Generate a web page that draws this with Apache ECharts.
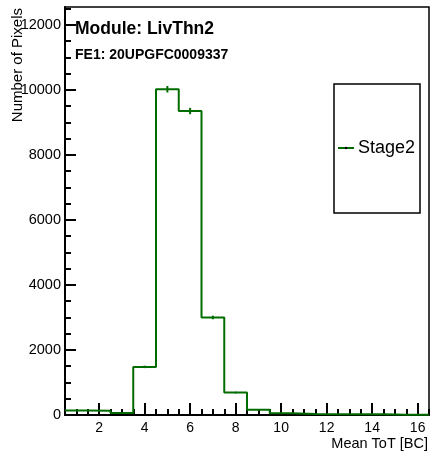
<!DOCTYPE html>
<html>
<head>
<meta charset="utf-8">
<script src="https://cdn.jsdelivr.net/npm/echarts@6/dist/echarts.min.js"></script>
<style>
  html, body { margin: 0; padding: 0; background: #fff; }
  #chart { width: 434px; height: 456px; }
</style>
</head>
<body>
<div id="chart"></div>
<script>
// histogram bins (centres, width 1) and contents
var bins   = [1, 2, 3, 4, 5, 6, 7, 8, 9, 10, 11, 12, 13, 14, 15, 16];
var counts = [140, 130, 60, 1480, 10020, 9350, 3000, 690, 160, 50, 30, 25, 20, 25, 10, 5];
var errors = [12, 11, 8, 38, 100, 97, 55, 26, 13, 7, 5, 5, 4, 5, 3, 2];

var xMajor = [2, 4, 6, 8, 10, 12, 14, 16];
var yMajor = [0, 2000, 4000, 6000, 8000, 10000, 12000];

var xMin = 0.5, xMax = 16.5;
var yMin = 0, yMax = 12550;

var lineColor = '#006c00';
var font = 'Liberation Sans, Arial, Helvetica, sans-serif';

// minor ticks every 0.5 on x, every 500 on y
var xMinor = [];
for (var t = 1; t <= 16.5; t += 0.5) {
    if (xMajor.indexOf(t) < 0) xMinor.push(t);
}
var yMinor = [];
for (var u = 500; u <= 12500; u += 500) {
    if (yMajor.indexOf(u) < 0) yMinor.push(u);
}

// step outline: left edge of every bin, plus closing right edge
var outline = [];
for (var i = 0; i < bins.length; i++) {
    outline.push([bins[i] - 0.5, counts[i]]);
}
outline.push([bins[bins.length - 1] + 0.5, counts[counts.length - 1]]);

var errData = [];
for (var k = 0; k < bins.length; k++) {
    errData.push([bins[k], counts[k], errors[k]]);
}

var myChart = echarts.init(document.getElementById('chart'));

var option = {
    animation: false,
    backgroundColor: '#fff',
    title: [
        {
            text: 'Module: LivThn2',
            left: 75, top: 20, padding: 0,
            textStyle: { fontFamily: font, fontWeight: 'bold', fontSize: 17.5, color: '#000' }
        },
        {
            text: 'FE1: 20UPGFC0009337',
            left: 75, top: 48, padding: 0,
            textStyle: { fontFamily: font, fontWeight: 'bold', fontSize: 14, color: '#000' }
        }
    ],
    legend: {
        data: ['Stage2'],
        left: 337, top: 139, padding: 0,
        itemWidth: 16, itemHeight: 3, itemGap: 4,
        textStyle: { fontFamily: font, fontSize: 18, color: '#000', padding: [0, 0, 0, -1] }
    },
    grid: {
        left: 65, right: 5, top: 7, bottom: 41,
        show: true,
        borderColor: '#000',
        borderWidth: 1.5
    },
    xAxis: [
        {
            type: 'value',
            min: xMin, max: xMax,
            splitLine: { show: false },
            axisLine: { lineStyle: { color: '#000', width: 2 } },
            axisTick: { inside: true, length: 12, customValues: xMajor, lineStyle: { color: '#000', width: 2 } },
            axisLabel: { customValues: xMajor, margin: 6, fontFamily: font, fontSize: 14, color: '#000' }
        },
        {
            type: 'value',
            min: xMin, max: xMax,
            position: 'bottom',
            splitLine: { show: false },
            axisLine: { show: false },
            axisTick: { inside: true, length: 6, customValues: xMinor, lineStyle: { color: '#000', width: 2 } },
            axisLabel: { show: false }
        }
    ],
    yAxis: [
        {
            type: 'value',
            min: yMin, max: yMax,
            splitLine: { show: false },
            axisLine: { show: true, lineStyle: { color: '#000', width: 2 } },
            axisTick: { show: true, inside: true, length: 11, customValues: yMajor, lineStyle: { color: '#000', width: 2 } },
            axisLabel: {
                customValues: yMajor, margin: 4,
                fontFamily: font, fontSize: 14.5, color: '#000',
                formatter: function (v) { return String(v); }
            }
        },
        {
            type: 'value',
            min: yMin, max: yMax,
            position: 'left',
            splitLine: { show: false },
            axisLine: { show: false },
            axisTick: { show: true, inside: true, length: 6, customValues: yMinor, lineStyle: { color: '#000', width: 2 } },
            axisLabel: { show: false }
        }
    ],
    graphic: [
        {
            type: 'rect',
            shape: { x: 334, y: 84, width: 86, height: 129 },
            style: { fill: 'transparent', stroke: '#000', lineWidth: 1.5 },
            z: 10
        },
        {
            type: 'text',
            x: 18, y: 8,
            rotation: Math.PI / 2,
            style: {
                text: 'Number of Pixels',
                fontFamily: font, fontSize: 15, fill: '#000',
                textAlign: 'right', textVerticalAlign: 'middle'
            }
        },
        {
            type: 'text',
            x: 428, y: 444,
            style: {
                text: 'Mean ToT [BC]',
                fontFamily: font, fontSize: 14.5, fill: '#000',
                textAlign: 'right', textVerticalAlign: 'middle'
            }
        }
    ],
    series: [
        {
            name: 'Stage2',
            type: 'line',
            step: 'end',
            data: outline,
            symbol: 'circle',
            symbolSize: 2,
            showSymbol: false,
            itemStyle: { color: '#000' },
            lineStyle: { color: lineColor, width: 2 },
            z: 3
        },
        {
            name: 'errors',
            type: 'custom',
            data: errData,
            encode: { x: 0, y: 1 },
            renderItem: function (params, api) {
                var x = api.value(0), v = api.value(1), e = api.value(2);
                var p1 = api.coord([x, v - e]);
                var p2 = api.coord([x, v + e]);
                return {
                    type: 'line',
                    shape: { x1: p1[0], y1: p1[1], x2: p2[0], y2: p2[1] },
                    style: { stroke: lineColor, lineWidth: 2 }
                };
            },
            z: 4
        }
    ]
};

myChart.setOption(option);
</script>
</body>
</html>
